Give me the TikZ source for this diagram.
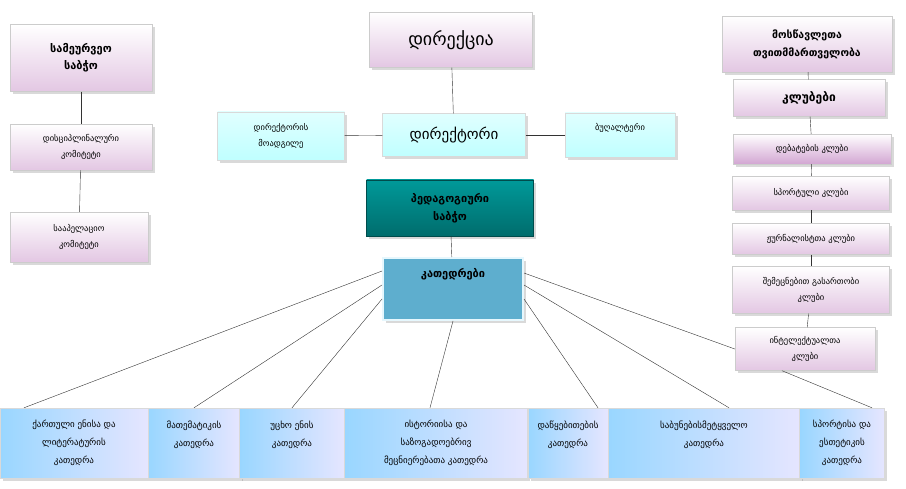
\documentclass[tikz,border=0pt]{standalone}
\usepackage{fontspec}
\setmainfont{DejaVu Sans}
\usetikzlibrary{shadows}
\tikzstyle{councilBox} = [rectangle,
                          minimum width=142pt,
                          minimum height=67pt,
                          text centered,
                          align=center,
                          draw=gray!40,
                          top color=white,
                          bottom color=violet!22,
                          drop shadow={opacity=0.3},
                          font=\fontsize{11}{17}\selectfont\bfseries]
\tikzstyle{clubBox}    = [rectangle,
                          text centered,
                          align=center,
                          draw=gray!40,
                          top color=white,
                          bottom color=violet!22,
                          drop shadow={opacity=0.3},
                          font=\fontsize{8.5}{16}\selectfont]
\tikzstyle{staffBox}   = [rectangle,
                          text centered,
                          align=center,
                          draw=gray!30,
                          top color=cyan!12,
                          bottom color=cyan!25!white,
                          drop shadow={opacity=0.3},
                          font=\fontsize{8.5}{16}\selectfont]
\tikzstyle{chairBox}   = [rectangle,
                          minimum height=70pt,
                          text centered,
                          align=center,
                          draw=gray!30,
                          left color=blue!40!cyan!40!white,
                          right color=blue!10,
                          drop shadow={opacity=0.3},
                          font=\fontsize{9}{18}\selectfont]
\tikzstyle{line}       = [draw=black!80]

\begin{document}
\begin{tikzpicture}[x=1pt,y=-1pt]
        \useasboundingbox (0,0) rectangle (906,489);

        % left column
        \node [councilBox] (Board) at (81,58) {სამეურვეო\\საბჭო};
        \node [clubBox, minimum width=142pt, minimum height=46pt] (Discipline) at (81,147) {დისციპლინალური\\კომიტეტი};
        \node [clubBox, minimum width=138pt, minimum height=50pt] (Appeal) at (79,237) {სააპელაციო\\კომიტეტი};

        % centre column
        \node [councilBox, minimum width=163pt, minimum height=55pt, font=\fontsize{18}{20}\selectfont] (Direction) at (451,40) {დირექცია};
        \node [staffBox, minimum width=127pt, minimum height=48pt] (Deputy) at (281,136) {დირექტორის\\მოადგილე};
        \node [staffBox, minimum width=143pt, minimum height=43pt, font=\fontsize{15}{16}\selectfont] (Director) at (454,135) {დირექტორი};
        \node [staffBox, minimum width=110pt, minimum height=44pt] (Accountant) at (620,135) {ბუღალტერი\\ };
        \node [rectangle, minimum width=167pt, minimum height=56pt, align=center,
               top color=teal!80!cyan, bottom color=teal!85!black, draw=teal!60!black,
               drop shadow={opacity=0.3},
               font=\fontsize{11}{18}\selectfont\bfseries] (Pedagogy) at (450,208) {პედაგოგიური\\საბჭო};
        \node [rectangle, minimum width=140pt, minimum height=62pt, align=center,
               fill=cyan!50!teal!75!white, draw=cyan!10, line width=2pt,
               drop shadow={opacity=0.3},
               font=\fontsize{11}{16}\selectfont\bfseries] (Chairs) at (453,289) {კათედრები\\ \\ };

        % right column
        \node [councilBox, minimum width=170pt, minimum height=56pt, font=\fontsize{10.5}{18}\selectfont\bfseries] (Students) at (807,44) {მოსწავლეთა\\თვითმმართველობა};
        \node [clubBox, minimum width=152pt, minimum height=37pt, font=\fontsize{12}{13}\selectfont\bfseries] (Clubs) at (809,98) {კლუბები};
        \node [clubBox, minimum width=158pt, minimum height=30pt, bottom color=violet!35] (Debate) at (812,149) {დებატების კლუბი};
        \node [clubBox, minimum width=157pt, minimum height=34pt] (Sport) at (811,193) {სპორტული კლუბი};
        \node [clubBox, minimum width=157pt, minimum height=31pt] (Press) at (811,239) {ჟურნალისტთა კლუბი};
        \node [clubBox, minimum width=157pt, minimum height=47pt] (Fun) at (811,290) {შემეცნებით გასართობი\\კლუბი};
        \node [clubBox, minimum width=140pt, minimum height=43pt] (Intellect) at (805,349) {ინტელექტუალთა\\კლუბი};

        % bottom row
        \node [chairBox, minimum width=148pt] (Georgian) at (74,443) {ქართული ენისა და\\ლიტერატურის\\კათედრა};
        \node [chairBox, minimum width=92pt] (Maths) at (194,443) {მათემატიკის\\კათედრა\\ };
        \node [chairBox, minimum width=105pt] (Foreign) at (292,443) {უცხო ენის\\კათედრა\\ };
        \node [chairBox, minimum width=183pt] (History) at (436,443) {ისტორიისა და\\საზოგადოებრივ\\მეცნიერებათა კათედრა};
        \node [chairBox, minimum width=80pt] (Primary) at (568,443) {დაწყებითების\\კათედრა\\ };
        \node [chairBox, minimum width=192pt] (Science) at (704,443) {საბუნებისმეტყველო\\კათედრა\\ };
        \node [chairBox, minimum width=85pt] (Arts) at (842,443) {სპორტისა და\\ესთეტიკის\\კათედრა};

        \draw [line] (Board) -- (Discipline);
        \draw [line] (Discipline) -- (Appeal);

        \draw [line] (Direction) -- (Director);
        \draw [line] (Deputy) -- (Director);
        \draw [line] (Director) -- (Accountant);
        \draw [line] (Pedagogy) -- (Chairs);

        \draw [line] (Students) -- (Clubs);
        \draw [line] (Clubs) -- (Debate);
        \draw [line] (Debate) -- (Sport);
        \draw [line] (Sport) -- (Press);
        \draw [line] (Press) -- (Fun);
        \draw [line] (Fun) -- (Intellect);

        \draw [line] ([yshift=18pt]Chairs.west) -- ([xshift=-50pt]Georgian.north);
        \draw [line] ([yshift=4pt]Chairs.west) -- (Maths.north);
        \draw [line] ([yshift=-10pt]Chairs.west) -- (Foreign.north);
        \draw [line] (Chairs.south) -- ([xshift=-6pt]History.north);
        \draw [line] ([yshift=-10pt]Chairs.east) -- ([xshift=30pt]Primary.north);
        \draw [line] ([yshift=4pt]Chairs.east) -- ([xshift=25pt]Science.north);
        \draw [line] ([yshift=16pt]Chairs.east) -- (Intellect.west);
        \draw [line] ([xshift=-23pt]Intellect.south) -- ([xshift=30pt]Arts.north);
    \end{tikzpicture}
\end{document}
